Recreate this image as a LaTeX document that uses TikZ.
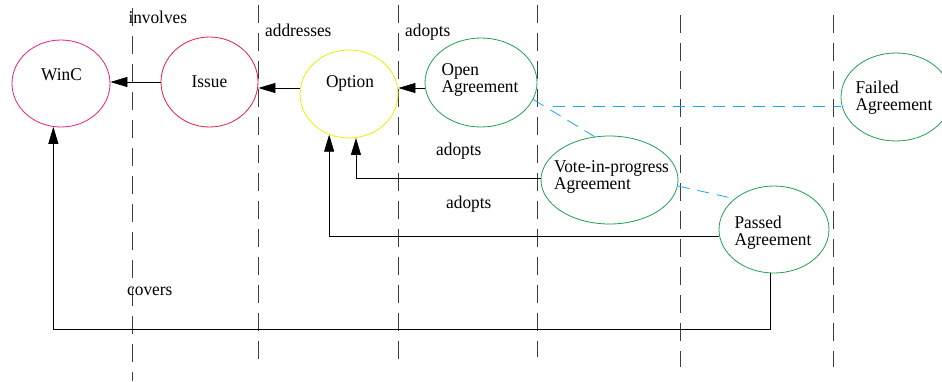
\documentclass[tikz,border=0pt]{standalone}
\usepackage{fontspec}
\setmainfont[FakeStretch=0.96]{Liberation Serif}
\newfontfamily\diagserif[FakeStretch=0.96]{Liberation Serif}
\usetikzlibrary{arrows.meta,shapes.geometric}

\definecolor{wincpink}{RGB}{228,32,128}
\definecolor{issuered}{RGB}{225,30,60}
\definecolor{optionyellow}{RGB}{240,236,0}
\definecolor{agreegreen}{RGB}{30,160,80}
\definecolor{flowcyan}{RGB}{20,170,230}
\definecolor{lanegray}{RGB}{60,60,60}

\begin{document}
\begin{tikzpicture}[
  x=1pt, y=-1pt,
  txt/.style={font=\diagserif\fontsize{18}{17}\selectfont, inner sep=0pt, align=left},
  state/.style={ellipse, draw, line width=0.8pt, inner sep=0pt},
  lane/.style={draw=lanegray, line width=0.8pt, dash pattern=on 18pt off 10pt},
  link/.style={draw=black, line width=0.8pt, -{Triangle[length=17pt,width=10pt]}},
  statelink/.style={draw=flowcyan, line width=0.8pt, dash pattern=on 12pt off 8pt},
]
\useasboundingbox (0,0) rectangle (942,381);

% swimlane separators
\draw[lane] (132,8) -- (132,381);
\draw[lane] (258,5) -- (258,363);
\draw[lane] (398,5) -- (398,363);
\draw[lane] (537,5) -- (537,357);
\draw[lane] (680,15) -- (680,367);
\draw[lane] (833,15) -- (833,367);

% concepts
\node[state, draw=wincpink, minimum width=98pt, minimum height=87pt,
      label={[txt, yshift=9pt, xshift=0.5pt]center:WinC}] (winc) at (61,83.5) {};
\node[state, draw=issuered, minimum width=97pt, minimum height=90pt,
      label={[txt, yshift=0.5pt]center:Issue}] (issue) at (209.5,82) {};
\node[state, draw=optionyellow, minimum width=98pt, minimum height=88pt,
      label={[txt, yshift=10.3pt, xshift=1pt]center:Option}] (option) at (349,94) {};

% agreement states
\node[state, draw=agreegreen, minimum width=112pt, minimum height=89pt,
      label={[txt, yshift=3pt, xshift=-1pt]center:Open\\Agreement}] (open) at (481,82.5) {};
\node[state, draw=agreegreen, minimum width=137pt, minimum height=88pt,
      label={[txt, yshift=3.5pt, xshift=2pt]center:Vote-in-progress\\Agreement}] (vote) at (609.5,180) {};
\node[state, draw=agreegreen, minimum width=110pt, minimum height=87pt,
      label={[txt, yshift=-3.5pt, xshift=-1pt]center:Passed\\Agreement}] (passed) at (774,229.5) {};
\node[state, draw=agreegreen, minimum width=110pt, minimum height=88pt,
      label={[txt, yshift=-0.5pt, xshift=-2pt]center:Failed\\Agreement}] (failed) at (896,97) {};

% relations
\draw[link] (issue.west) -- (issue.west -| winc.east);
\draw[link] ([yshift=6pt]option.west) -- ([yshift=6pt]option.west -| issue.east);
\draw[link] ([yshift=-5.5pt]open.west) -- ([yshift=-5.5pt]open.west -| option.east);
\draw[link] ([yshift=1.7pt]vote.west) -| (option.-81);
\draw[link] ([yshift=-6.5pt]passed.west) -| (option.-116.4);
\coordinate (floor) at (0,329);
\draw[link] (passed.-95.3) |- (floor -| winc.-100.6) -- (winc.-100.6);

% state transitions
\draw[statelink] (open.-18) -- (vote.109.5);
\draw[statelink, shorten <=24pt] (open.-26.2) -- (open.-26.2 -| failed.west);
\draw[statelink] (vote.-5) -- (passed.142.7);

% relation labels
\node[txt, anchor=base west] (lbl-involves) at (128.3,23.3) {involves};
\node[txt, anchor=base west] (lbl-addresses) at (265,36.7) {addresses};
\node[txt, anchor=base west] (lbl-adopts-open) at (405,36.7) {adopts};
\node[txt, anchor=base west] (lbl-adopts-vote) at (436,155) {adopts};
\node[txt, anchor=base west] (lbl-adopts-passed) at (446,208) {adopts};
\node[txt, anchor=base west] (lbl-covers) at (127,295) {covers};
\end{tikzpicture}
\end{document}
